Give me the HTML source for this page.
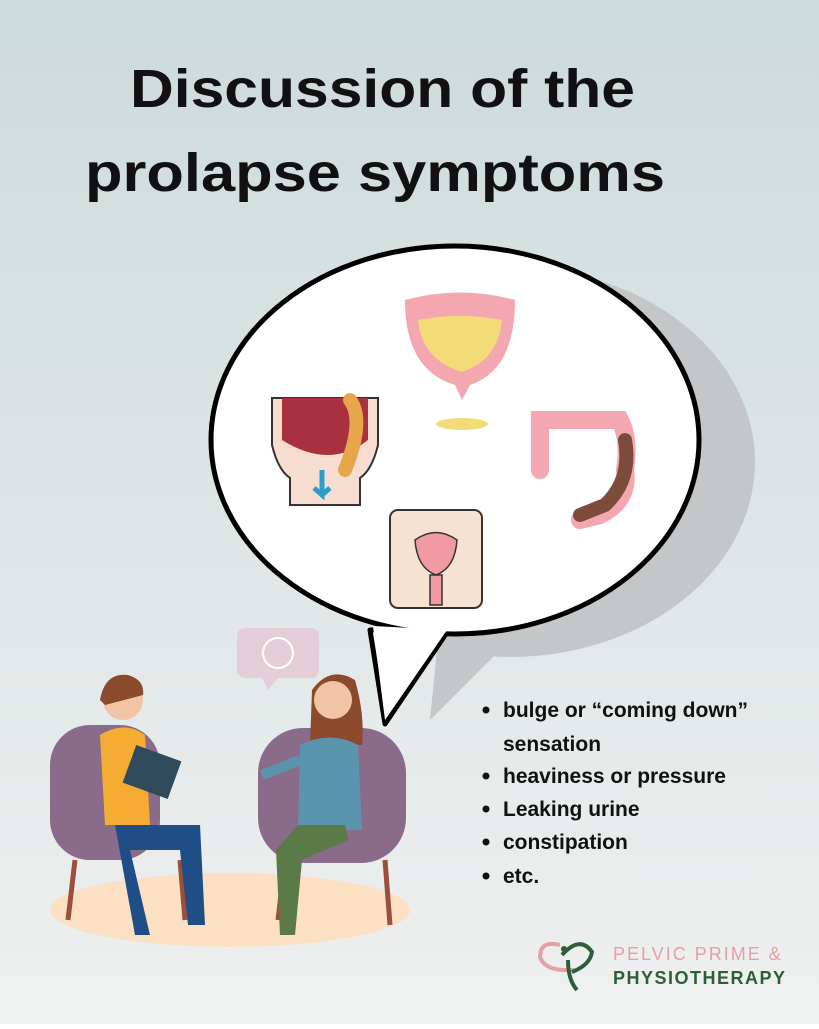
<!DOCTYPE html>
<html><head><meta charset="utf-8"><style>
html,body{margin:0;padding:0}
body{width:819px;height:1024px;overflow:hidden;font-family:"Liberation Sans",sans-serif}
</style></head><body>
<svg width="819" height="1024" viewBox="0 0 819 1024" xmlns="http://www.w3.org/2000/svg">
<defs><linearGradient id="bg" x1="0" y1="0" x2="0" y2="1"><stop offset="0" stop-color="#cddbda"/><stop offset="1" stop-color="#eff0f0"/></linearGradient></defs>
<rect width="819" height="1024" fill="url(#bg)"/>
<text x="130" y="107" font-size="54" font-weight="bold" textLength="505" lengthAdjust="spacingAndGlyphs" fill="#111">Discussion of the</text>
<text x="85" y="191" font-size="54" font-weight="bold" textLength="580" lengthAdjust="spacingAndGlyphs" fill="#111">prolapse symptoms</text>
<!-- bubble shadow -->
<ellipse cx="510" cy="462" rx="245" ry="195" fill="#c3c7c7"/>
<path d="M440,620 L430,720 L520,630 Z" fill="#c3c7c7"/>
<!-- bubble -->
<path d="M370,630 L385,724 L450,628 Z" fill="#fff" stroke="#000" stroke-width="5" stroke-linejoin="round"/>
<ellipse cx="455" cy="440" rx="244" ry="194" fill="#fff" stroke="#000" stroke-width="5"/>
<path d="M373,626 L385,720 L447,630 Z" fill="#fff"/>
<!-- bladder -->
<path d="M405,300 Q460,285 515,300 Q515,370 470,385 L462,400 L455,385 Q405,370 405,300Z" fill="#f4a7b0"/>
<path d="M418,320 Q460,312 502,320 Q498,360 462,372 Q422,360 418,320Z" fill="#f3dc77"/>
<ellipse cx="462" cy="424" rx="26" ry="6" fill="#f3dc77"/>
<!-- pelvis icon -->
<path d="M272,398 L378,398 L378,445 Q372,470 360,478 L360,505 L290,505 L290,478 Q278,470 272,445Z" fill="#f7dcd0" stroke="#333" stroke-width="2"/>
<path d="M282,398 L368,398 L368,440 Q330,470 282,440Z" fill="#a8313d"/>
<path d="M350,400 Q365,420 345,470" stroke="#e7a64a" stroke-width="14" fill="none" stroke-linecap="round"/>
<path d="M322,470 L322,495 L314,488 M322,495 L330,488" stroke="#2a9ec9" stroke-width="5" fill="none"/>
<!-- colon -->
<path d="M540,470 L540,420 L620,420 Q630,440 625,470 Q630,500 600,515 L580,520" stroke="#f4a7b0" stroke-width="18" fill="none" stroke-linecap="round"/>
<path d="M625,440 Q632,480 605,505 L580,515" stroke="#7c4b3a" stroke-width="14" fill="none" stroke-linecap="round"/>
<!-- uterus -->
<rect x="390" y="510" width="92" height="98" rx="8" fill="#f7e2d2" stroke="#333" stroke-width="2"/>
<path d="M415,540 Q436,525 457,540 Q455,568 436,575 Q417,568 415,540Z" fill="#f29aa3" stroke="#333" stroke-width="1.5"/>
<rect x="430" y="575" width="12" height="30" fill="#f29aa3" stroke="#333" stroke-width="1.5"/>
<!-- speech small bubble -->
<rect x="237" y="628" width="82" height="50" rx="8" fill="#e4cdd6"/>
<path d="M262,678 L268,690 L278,678Z" fill="#e4cdd6"/>
<circle cx="278" cy="653" r="15" fill="none" stroke="#fff" stroke-width="2"/>
<!-- floor -->
<ellipse cx="230" cy="910" rx="180" ry="37" fill="#fbe0c4"/>
<!-- chairs -->
<rect x="50" y="725" width="110" height="135" rx="40" fill="#8a6b89"/>
<rect x="258" y="728" width="148" height="135" rx="45" fill="#8a6b89"/>
<path d="M75,860 L68,920 M180,860 L185,920 M285,860 L278,920 M385,860 L390,925" stroke="#9c4f3e" stroke-width="5"/>
<!-- therapist -->
<circle cx="123" cy="700" r="20" fill="#f2c3a4"/>
<path d="M100,700 Q105,672 128,675 Q145,680 143,695 L105,705Z" fill="#8b4a2c"/>
<path d="M100,735 Q125,720 145,735 L150,825 L105,825Z" fill="#f5ac32"/>
<rect x="128" y="752" width="48" height="40" fill="#2f4a5a" transform="rotate(20 152 772)"/>
<path d="M115,825 L200,825 L205,925 L188,925 L180,850 L130,850 L150,935 L135,935Z" fill="#1f4e86"/>
<!-- patient -->
<path d="M312,690 Q330,665 355,680 Q365,715 362,745 L310,745Z" fill="#8b4a2c"/>
<circle cx="333" cy="700" r="19" fill="#f2c3a4"/>
<path d="M300,745 Q330,730 358,745 L362,830 L298,830Z" fill="#5a95ad"/>
<path d="M300,760 L262,775" stroke="#5a95ad" stroke-width="10"/>
<path d="M298,825 L345,825 L348,840 L302,860 L295,935 L280,935 L276,850Z" fill="#5a7a47"/>
<!-- bullets -->
<g font-size="21" font-weight="bold" fill="#111">
<circle cx="486" cy="710" r="3.5"/><text x="503" y="717">bulge or  “coming down”</text>
<text x="503" y="751">sensation</text>
<circle cx="486" cy="776" r="3.5"/><text x="503" y="783">heaviness or pressure</text>
<circle cx="486" cy="809" r="3.5"/><text x="503" y="816">Leaking urine</text>
<circle cx="486" cy="842" r="3.5"/><text x="503" y="849"> constipation</text>
<circle cx="486" cy="876" r="3.5"/><text x="503" y="883">etc.</text>
</g>
<!-- logo -->
<path d="M560,945 Q540,940 540,957 Q545,972 575,970" stroke="#e4a0a4" stroke-width="4" fill="none"/>
<path d="M562,955 Q580,935 592,952 Q590,965 572,972 M568,960 Q568,980 577,990" stroke="#2d5e3a" stroke-width="4" fill="none"/>
<circle cx="564" cy="949" r="3" fill="#2d5e3a"/>
<text x="613" y="960" font-size="18" letter-spacing="2" fill="#e4a0a4">PELVIC PRIME &amp;</text>
<text x="613" y="984" font-size="18" font-weight="bold" letter-spacing="1.5" fill="#2d5e3a">PHYSIOTHERAPY</text>
</svg>
</body></html>
